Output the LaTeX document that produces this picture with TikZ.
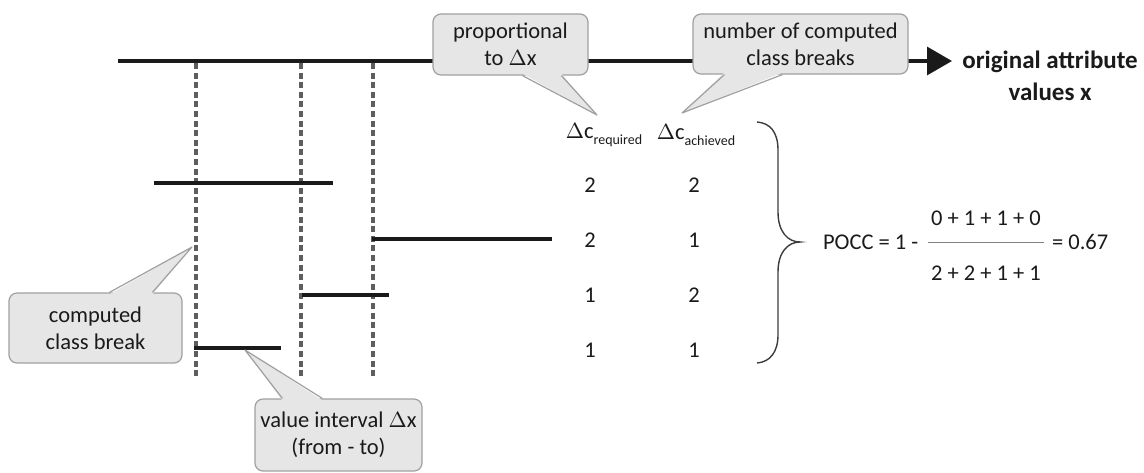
\documentclass[tikz,border=0pt]{standalone}
\usepackage{fontspec}
\setmainfont{Carlito}
\definecolor{CallFill}{HTML}{E6E6E6}
\definecolor{CallLine}{HTML}{A0A0A0}
\definecolor{BreakGray}{HTML}{5E5E5E}
\definecolor{InkDark}{HTML}{1A1A1A}
\usetikzlibrary{arrows.meta, positioning, calc, decorations.pathreplacing}

\begin{document}
\begin{tikzpicture}[x=0.5pt, y=-0.5pt, >=Stealth,
    font=\fontsize{11.25}{13.5}\selectfont, text=InkDark,
    callbox/.style={draw=CallLine, fill=CallFill, rounded corners=4pt,
      align=center, line width=0.6pt, inner sep=0pt},
    callline/.style={draw=CallLine, line width=0.6pt, line join=round},
    axisline/.style={InkDark, line width=1.6pt},
    intline/.style={InkDark, line width=1.6pt},
    breakline/.style={BreakGray, line width=1.7pt, dash pattern=on 3pt off 1.8pt},
    bracestyle/.style={InkDark!85, line width=0.7pt},
    fracline/.style={gray, line width=0.5pt}]
  \useasboundingbox (0,0) rectangle (1144,472);

  % value axis
  \coordinate (xstart) at (118,61);
  \node[font=\fontsize{12.5}{16}\bfseries, align=center, anchor=west, inner sep=2.5pt]
    (xlabel) at (957,76) {original attribute\\values x};
  \draw[axisline, -{Triangle[length=12.5pt, width=14pt]}, shorten >=2.5pt]
    (xstart) -- (xstart -| xlabel.west);

  % computed class breaks
  \foreach \bx in {196,301,373}
    \draw[breakline] (\bx,63) -- (\bx,378);

  % value intervals
  \foreach \xa/\xb/\yy in {154/333/183, 372/552/239, 302/389/295, 194/281/348}
    \draw[intline] (\xa,\yy) -- (\xb,\yy);

  % table
  \node (hreq) at (604,135) {$\Delta$c\raisebox{-3pt}{\fontsize{7}{8}\selectfont required}};
  \node (hach) at (696,135) {$\Delta$c\raisebox{-3pt}{\fontsize{7}{8}\selectfont achieved}};
  \foreach \req/\ach/\yy [count=\i] in {2/2/185, 2/1/240, 1/2/295, 1/1/350} {
    \node (req\i) at (590,\yy) {\req};
    \node (ach\i) at (694,\yy) {\ach};
  }
  \draw[bracestyle] (757,122) .. controls (770,123) and (778,132) .. (778,150)
    -- (778,212) .. controls (778,232) and (788,242) .. (800,242)
    .. controls (788,242) and (778,252) .. (778,272)
    -- (778,335) .. controls (778,352) and (770,362) .. (757,363);

  % POCC formula
  \node[anchor=west] (pocc) at (816,242) {POCC = 1 -};
  \node (num) at (986,218) {0 + 1 + 1 + 0};
  \node (den) at (986,273) {2 + 2 + 1 + 1};
  \draw[fracline] ($(num.west |- pocc)+(4,0)$) -- ($(num.east |- pocc)+(-4,0)$);
  \node[anchor=west] (res) at (1045,242) {= 0.67};

  % callouts
  \node[callbox, minimum width=77.5pt, minimum height=30.5pt] (propbox)
    at (510.5,44.5) {proportional\\to $\Delta$x};
  \coordinate (proptip) at (597,115);
  \fill[CallFill] ([xshift=45pt, yshift=1pt]propbox.south west) -- (proptip)
    -- ([xshift=64.5pt, yshift=1pt]propbox.south west) -- cycle;
  \draw[callline] ([xshift=45pt]propbox.south west) -- (proptip)
    -- ([xshift=64.5pt]propbox.south west);

  \node[callbox, minimum width=107.5pt, minimum height=30pt] (numbox)
    at (800.5,44) {number of computed\\class breaks};
  \coordinate (numtip) at (682,113);
  \fill[CallFill] ([xshift=16pt, yshift=1pt]numbox.south west) -- (numtip)
    -- ([xshift=45pt, yshift=1pt]numbox.south west) -- cycle;
  \draw[callline] ([xshift=16pt]numbox.south west) -- (numtip)
    -- ([xshift=45pt]numbox.south west);

  \node[callbox, minimum width=86.5pt, minimum height=35pt] (compbox)
    at (95.5,328) {computed\\class break};
  \coordinate (comptip) at (192,247);
  \fill[CallFill] ([xshift=50.5pt, yshift=-1pt]compbox.north west) -- (comptip)
    -- ([xshift=72pt, yshift=-1pt]compbox.north west) -- cycle;
  \draw[callline] ([xshift=50.5pt]compbox.north west) -- (comptip)
    -- ([xshift=72pt]compbox.north west);

  \node[callbox, minimum width=83.5pt, minimum height=36pt] (valbox)
    at (338.5,435) {value interval $\Delta$x\\(from - to)};
  \coordinate (valtip) at (245,350);
  \fill[CallFill] ([xshift=14pt, yshift=-1pt]valbox.north west) -- (valtip)
    -- ([xshift=34pt, yshift=-1pt]valbox.north west) -- cycle;
  \draw[callline] ([xshift=14pt]valbox.north west) -- (valtip)
    -- ([xshift=34pt]valbox.north west);
\end{tikzpicture}
\end{document}
